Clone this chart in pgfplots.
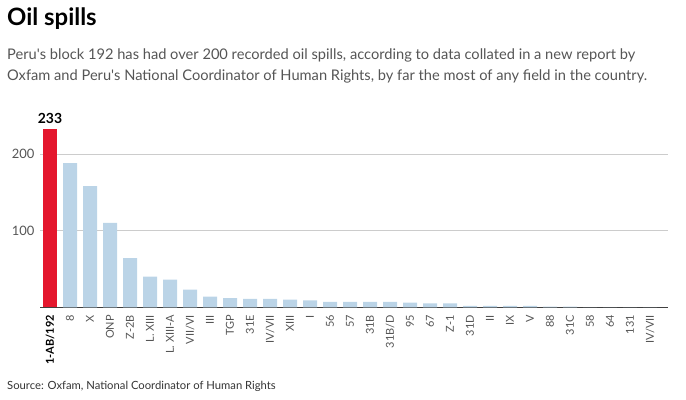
\documentclass[border=0pt]{standalone}
\usepackage{fontspec}
\setmainfont{Lato}
\usepackage{pgfplots}
\pgfplotsset{compat=1.18}
\definecolor{redbar}{RGB}{228,23,45}
\definecolor{bluebar}{RGB}{187,212,231}
\definecolor{txt}{RGB}{85,85,85}
\definecolor{gridc}{RGB}{204,204,204}
\begin{document}
\begin{tikzpicture}[x=1bp,y=1bp]
\path (0,0) rectangle (686,-399);
\node[anchor=north west, inner sep=0, font=\fontsize{24}{28}\selectfont\bfseries] at (7,-8) {Oil spills};
\node[anchor=north west, inner sep=0, align=left, text=txt, font=\fontsize{14.7}{21}\selectfont] at (7,-49) {Peru\textquotesingle s block 192 has had over 200 recorded oil spills, according to data collated in a new report by\\Oxfam and Peru\textquotesingle s National Coordinator of Human Rights, by far the most of any field in the country.};
\node[anchor=west, inner sep=0, text=black!80, font=\fontsize{11.3}{14}\selectfont] at (7,-386.5) {Source: Oxfam, National Coordinator of Human Rights};
\begin{axis}[
  at={(40bp,-307.3bp)}, anchor=south west,
  scale only axis, width=628bp, height=184bp,
  xmin=-0.5, xmax=30.9, ymin=0, ymax=240,
  axis x line*=bottom, axis y line*=left,
  y axis line style={draw=none},
  x axis line style={draw=black!75, line width=0.9bp},
  ytick={100,200}, ytick style={draw=none},
  xtick={0,...,30}, xtick style={draw=none},
  ymajorgrids, grid style={gridc, line width=0.8bp},
  yticklabel style={text=txt, font=\fontsize{13}{15}\selectfont},
  yticklabel shift=2bp,
  /pgf/number format/assume math mode=true,
  xticklabel style={rotate=90, anchor=east, text=txt, font=\fontsize{11}{12}\selectfont},
  xticklabels={{\textbf{\color{black}1-AB/192}},8,X,ONP,Z-2B,L. XIII,L. XIII-A,VII/VI,III,TGP,31E,IV/VII,XIII,I,56,57,31B,31B/D,95,67,Z-1,31D,II,IX,V,88,31C,58,64,131,IV/VII},
  ybar, bar width=14bp, bar shift=0pt,
  clip=false,
]
\addplot[fill=redbar, draw=none, nodes near coords, every node near coord/.style={font=\fontsize{14}{16}\selectfont\bfseries, text=black, anchor=south, yshift=2bp}] coordinates {(0,233)};
\addplot[fill=bluebar, draw=none] coordinates {
(1,188) (2,158) (3,110) (4,64) (5,40) (6,36) (7,23) (8,14) (9,12) (10,11)
(11,11) (12,10) (13,9) (14,7) (15,7) (16,7) (17,7) (18,6) (19,5) (20,5)
(21,2) (22,2) (23,2) (24,2) (25,1) (26,1) (27,0) (28,0) (29,0) (30,0)};
\end{axis}
\end{tikzpicture}
\end{document}
